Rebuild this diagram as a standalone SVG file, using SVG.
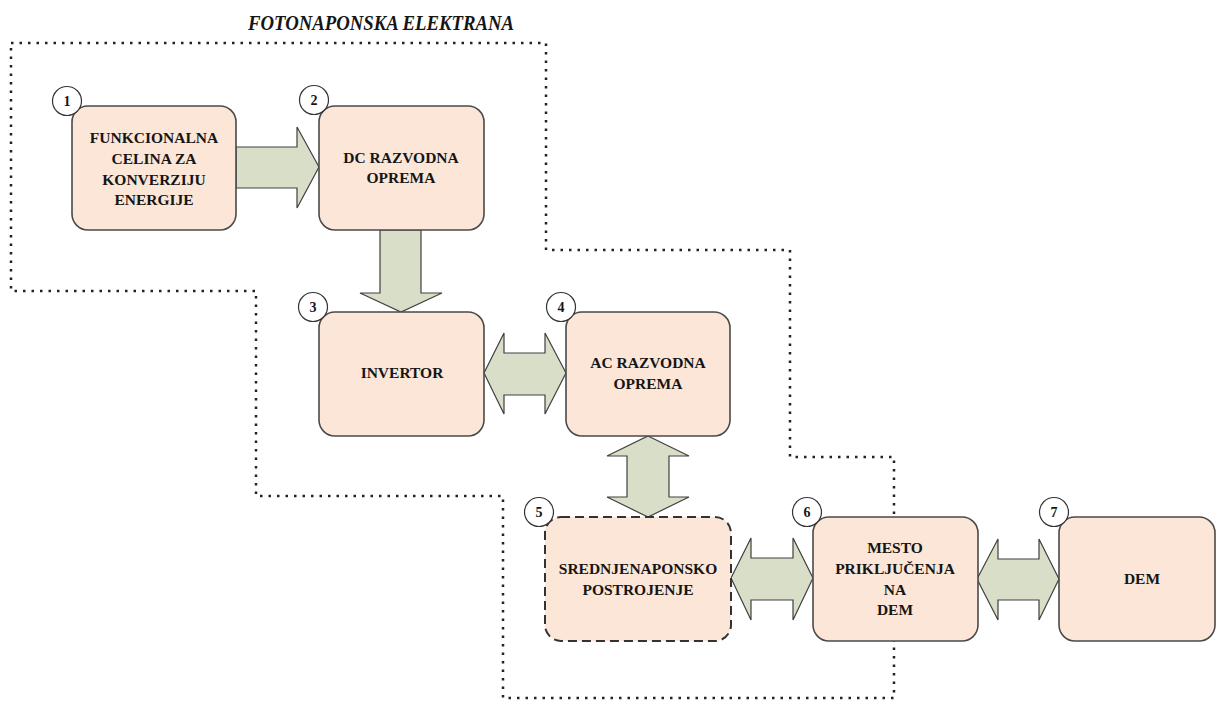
<svg xmlns="http://www.w3.org/2000/svg" width="1216" height="702" viewBox="0 0 1216 702">
<style>
.box{fill:#FBE6D8;stroke:#4a4a4a;stroke-width:1.6}
.dash{stroke:#333333;stroke-width:2;stroke-dasharray:9 5}
.arr{fill:#D8DEC8;stroke:#404040;stroke-width:1.2;stroke-linejoin:miter}
.num{fill:#ffffff;stroke:#333333;stroke-width:1.2}
.lbl{font-family:"Liberation Serif",serif;font-weight:bold;font-size:15.5px;fill:#151515;text-anchor:middle}
.n{font-family:"Liberation Serif",serif;font-weight:bold;font-size:14px;fill:#151515;text-anchor:middle}
.title{font-family:"Liberation Serif",serif;font-weight:bold;font-style:italic;font-size:20px;fill:#151515}
.bound{fill:none;stroke:#222222;stroke-width:2.5;stroke-dasharray:2.5 6}
</style>
<text class="title" x="248" y="30" textLength="266" lengthAdjust="spacingAndGlyphs">FOTONAPONSKA ELEKTRANA</text>
<polygon class="bound" points="11,43 546,43 546,250 790,250 790,457 894,457 894,698 503,698 503,496 256,496 256,291 11,291"/>
<g id="connectors">
<polygon class="arr" points="236,147 297,147 297,127 319,167 297,208 297,188 236,188"/>
<polygon class="arr" points="380,230 421,230 421,293 442,293 401,312 360,293 380,293"/>
<polygon class="arr" points="484,373 504,333 504,353 545,353 545,333 566,373 545,414 545,395 504,395 504,414"/>
<polygon class="arr" points="648,436 689,456 669,456 669,497 689,497 648,517 607,497 627,497 627,456 607,456"/>
<polygon class="arr" points="731,578 751,538 751,558 793,558 793,538 813,578 793,620 793,600 751,600 751,620"/>
<polygon class="arr" points="977,579 998,539 998,559 1039,559 1039,539 1059,579 1039,620 1039,600 998,600 998,620"/>
</g>
<g id="node1">
<rect class="box" x="72" y="106" width="164" height="124" rx="16"/>
<circle class="num" cx="67" cy="101" r="14.5"/><text class="n" x="67" y="106">1</text>
<text class="lbl" x="154" y="143">FUNKCIONALNA</text>
<text class="lbl" x="154" y="164">CELINA ZA</text>
<text class="lbl" x="154" y="185">KONVERZIJU</text>
<text class="lbl" x="154" y="205">ENERGIJE</text>
</g>
<g id="node2">
<rect class="box" x="319" y="106" width="165" height="124" rx="16"/>
<circle class="num" cx="314" cy="100" r="14.5"/><text class="n" x="314" y="105">2</text>
<text class="lbl" x="401" y="163">DC RAZVODNA</text>
<text class="lbl" x="401" y="183">OPREMA</text>
</g>
<g id="node3">
<rect class="box" x="319" y="312" width="165" height="124" rx="16"/>
<circle class="num" cx="313" cy="307" r="14.5"/><text class="n" x="313" y="312">3</text>
<text class="lbl" x="402" y="378">INVERTOR</text>
</g>
<g id="node4">
<rect class="box" x="566" y="312" width="164" height="124" rx="16"/>
<circle class="num" cx="561" cy="307" r="14.5"/><text class="n" x="561" y="312">4</text>
<text class="lbl" x="648" y="368">AC RAZVODNA</text>
<text class="lbl" x="648" y="389">OPREMA</text>
</g>
<g id="node5">
<rect class="box dash" x="545" y="517" width="186" height="124" rx="16"/>
<circle class="num" cx="539" cy="512" r="14.5"/><text class="n" x="539" y="517">5</text>
<text class="lbl" x="638" y="574">SREDNJENAPONSKO</text>
<text class="lbl" x="638" y="595">POSTROJENJE</text>
</g>
<g id="node6">
<rect class="box" x="813" y="517" width="165" height="124" rx="16"/>
<circle class="num" cx="807" cy="512" r="14.5"/><text class="n" x="807" y="517">6</text>
<text class="lbl" x="895" y="553">MESTO</text>
<text class="lbl" x="895" y="574">PRIKLJUČENJA</text>
<text class="lbl" x="895" y="595">NA</text>
<text class="lbl" x="895" y="615">DEM</text>
</g>
<g id="node7">
<rect class="box" x="1059" y="517" width="156" height="124" rx="16"/>
<circle class="num" cx="1054" cy="512" r="14.5"/><text class="n" x="1054" y="517">7</text>
<text class="lbl" x="1142" y="584">DEM</text>
</g>
</svg>
